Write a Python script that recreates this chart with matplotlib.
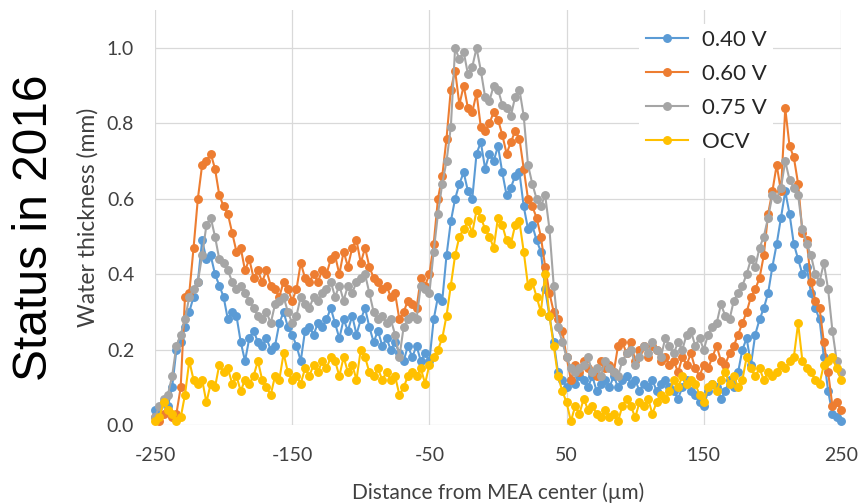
"""
Water thickness profile across the MEA (neutron imaging), status in 2016.
Four operating points: 0.40 V, 0.60 V, 0.75 V and OCV.
"""

import numpy as np
import matplotlib.pyplot as plt

# ===== DATA =====
# positions: -250 .. 250 um, 161 samples (3.125 um step)
X_START_UM = -250.0
X_STEP_UM = 3.125

SERIES_NAMES = ["0.40 V", "0.60 V", "0.75 V", "OCV"]
SERIES_COLORS = ["#5B9BD5", "#ED7D31", "#A5A5A5", "#FFC000"]

# water thickness (mm), 10 samples per row
water_040 = [
    0.04, 0.03, 0.06, 0.05, 0.10, 0.20, 0.22, 0.26, 0.30, 0.34,
    0.38, 0.49, 0.44, 0.45, 0.40, 0.37, 0.34, 0.28, 0.30, 0.29,
    0.22, 0.17, 0.23, 0.25, 0.22, 0.21, 0.23, 0.20, 0.21, 0.27,
    0.30, 0.26, 0.24, 0.21, 0.17, 0.25, 0.26, 0.24, 0.27, 0.26,
    0.28, 0.31, 0.27, 0.23, 0.28, 0.25, 0.29, 0.24, 0.28, 0.31,
    0.26, 0.22, 0.25, 0.21, 0.23, 0.20, 0.22, 0.19, 0.17, 0.21,
    0.18, 0.21, 0.17, 0.19, 0.17, 0.28, 0.34, 0.33, 0.45, 0.54,
    0.60, 0.64, 0.67, 0.62, 0.60, 0.72, 0.75, 0.68, 0.72, 0.70,
    0.74, 0.67, 0.61, 0.63, 0.66, 0.67, 0.58, 0.52, 0.53, 0.49,
    0.46, 0.36, 0.29, 0.22, 0.14, 0.12, 0.10, 0.12, 0.11, 0.13,
    0.12, 0.10, 0.13, 0.09, 0.11, 0.12, 0.10, 0.13, 0.10, 0.12,
    0.13, 0.11, 0.12, 0.09, 0.11, 0.10, 0.12, 0.09, 0.11, 0.12,
    0.10, 0.09, 0.07, 0.10, 0.12, 0.09, 0.08, 0.06, 0.05, 0.09,
    0.11, 0.10, 0.07, 0.09, 0.12, 0.10, 0.14, 0.20, 0.23, 0.16,
    0.24, 0.28, 0.31, 0.35, 0.42, 0.48, 0.55, 0.62, 0.56, 0.48,
    0.44, 0.40, 0.42, 0.35, 0.31, 0.28, 0.18, 0.09, 0.03, 0.02,
    0.01,
]
water_060 = [
    0.02, 0.01, 0.03, 0.04, 0.02, 0.03, 0.10, 0.34, 0.35, 0.47,
    0.60, 0.69, 0.70, 0.72, 0.68, 0.61, 0.58, 0.56, 0.51, 0.46,
    0.47, 0.41, 0.44, 0.39, 0.41, 0.38, 0.41, 0.37, 0.36, 0.34,
    0.38, 0.36, 0.33, 0.36, 0.43, 0.39, 0.38, 0.40, 0.38, 0.41,
    0.40, 0.44, 0.45, 0.40, 0.46, 0.42, 0.47, 0.49, 0.43, 0.47,
    0.42, 0.39, 0.38, 0.36, 0.37, 0.34, 0.35, 0.28, 0.30, 0.33,
    0.32, 0.31, 0.39, 0.37, 0.40, 0.48, 0.60, 0.66, 0.76, 0.89,
    0.94, 0.85, 0.90, 0.84, 0.83, 0.88, 0.79, 0.78, 0.80, 0.83,
    0.81, 0.77, 0.72, 0.75, 0.78, 0.76, 0.68, 0.60, 0.58, 0.55,
    0.50, 0.42, 0.35, 0.30, 0.28, 0.25, 0.18, 0.12, 0.16, 0.14,
    0.17, 0.15, 0.14, 0.13, 0.17, 0.15, 0.16, 0.14, 0.21, 0.22,
    0.19, 0.22, 0.17, 0.20, 0.21, 0.18, 0.21, 0.20, 0.17, 0.18,
    0.16, 0.17, 0.14, 0.18, 0.16, 0.19, 0.15, 0.13, 0.16, 0.15,
    0.18, 0.21, 0.17, 0.16, 0.19, 0.21, 0.24, 0.27, 0.30, 0.34,
    0.36, 0.39, 0.45, 0.56, 0.62, 0.69, 0.62, 0.84, 0.74, 0.71,
    0.64, 0.51, 0.49, 0.38, 0.33, 0.31, 0.22, 0.14, 0.05, 0.06,
    0.04,
]
water_075 = [
    0.02, 0.05, 0.07, 0.08, 0.13, 0.21, 0.24, 0.28, 0.34, 0.36,
    0.38, 0.45, 0.53, 0.55, 0.50, 0.44, 0.43, 0.41, 0.38, 0.36,
    0.37, 0.35, 0.33, 0.31, 0.29, 0.28, 0.30, 0.27, 0.32, 0.33,
    0.34, 0.30, 0.27, 0.29, 0.34, 0.32, 0.31, 0.34, 0.33, 0.35,
    0.36, 0.38, 0.34, 0.37, 0.33, 0.37, 0.35, 0.38, 0.39, 0.40,
    0.35, 0.30, 0.28, 0.29, 0.27, 0.28, 0.24, 0.18, 0.26, 0.28,
    0.29, 0.28, 0.37, 0.36, 0.35, 0.46, 0.56, 0.64, 0.70, 0.79,
    1.00, 0.97, 0.99, 0.93, 0.95, 1.00, 0.94, 0.87, 0.86, 0.90,
    0.89, 0.85, 0.84, 0.82, 0.87, 0.89, 0.82, 0.69, 0.64, 0.60,
    0.58, 0.61, 0.52, 0.37, 0.26, 0.22, 0.18, 0.15, 0.14, 0.15,
    0.16, 0.18, 0.14, 0.15, 0.13, 0.17, 0.15, 0.14, 0.13, 0.17,
    0.19, 0.20, 0.16, 0.18, 0.21, 0.19, 0.22, 0.20, 0.18, 0.23,
    0.21, 0.19, 0.22, 0.20, 0.24, 0.25, 0.21, 0.23, 0.20, 0.24,
    0.26, 0.27, 0.32, 0.29, 0.28, 0.33, 0.35, 0.37, 0.40, 0.44,
    0.42, 0.47, 0.50, 0.55, 0.61, 0.60, 0.63, 0.70, 0.65, 0.63,
    0.61, 0.52, 0.48, 0.45, 0.40, 0.38, 0.43, 0.36, 0.25, 0.17,
    0.14,
]
water_ocv = [
    0.01, 0.02, 0.06, 0.04, 0.03, 0.01, 0.02, 0.08, 0.17, 0.12,
    0.11, 0.12, 0.06, 0.11, 0.10, 0.16, 0.14, 0.15, 0.11, 0.13,
    0.09, 0.12, 0.11, 0.13, 0.17, 0.12, 0.10, 0.08, 0.13, 0.12,
    0.19, 0.14, 0.12, 0.13, 0.11, 0.15, 0.13, 0.16, 0.14, 0.17,
    0.15, 0.18, 0.17, 0.13, 0.18, 0.14, 0.16, 0.12, 0.20, 0.18,
    0.14, 0.13, 0.15, 0.12, 0.14, 0.12, 0.13, 0.08, 0.10, 0.13,
    0.14, 0.13, 0.15, 0.11, 0.16, 0.18, 0.20, 0.23, 0.29, 0.37,
    0.45, 0.50, 0.52, 0.54, 0.51, 0.57, 0.55, 0.52, 0.50, 0.47,
    0.55, 0.53, 0.49, 0.48, 0.53, 0.54, 0.46, 0.37, 0.38, 0.34,
    0.30, 0.40, 0.29, 0.21, 0.13, 0.09, 0.06, 0.01, 0.05, 0.03,
    0.07, 0.04, 0.05, 0.03, 0.02, 0.04, 0.02, 0.03, 0.01, 0.05,
    0.07, 0.05, 0.02, 0.06, 0.05, 0.07, 0.03, 0.06, 0.08, 0.07,
    0.09, 0.12, 0.10, 0.13, 0.11, 0.12, 0.11, 0.08, 0.06, 0.10,
    0.11, 0.09, 0.12, 0.14, 0.11, 0.13, 0.10, 0.12, 0.18, 0.15,
    0.13, 0.15, 0.12, 0.14, 0.13, 0.14, 0.16, 0.15, 0.17, 0.18,
    0.27, 0.17, 0.15, 0.14, 0.12, 0.11, 0.16, 0.17, 0.18, 0.15,
    0.12,
]

X_TICKS = [-250, -150, -50, 50, 150, 250]
Y_TICKS = [0.0, 0.2, 0.4, 0.6, 0.8, 1.0]

FONT = "Lato"
GRID_COLOR = "#d9d9d9"


def main():
    series = [water_040, water_060, water_075, water_ocv]
    x = X_START_UM + X_STEP_UM * np.arange(len(water_040))

    fig = plt.figure(figsize=(8.6, 5.04), dpi=100)
    ax = fig.add_axes([0.1802, 0.1567, 0.7977, 0.8228])

    for name, color, y in zip(SERIES_NAMES, SERIES_COLORS, series):
        ax.plot(x, y, color=color, lw=1.5, marker="o", ms=5.4,
                mec=color, mfc=color, label=name, clip_on=False, zorder=3)

    ax.set_xlim(-250, 250)
    ax.set_ylim(0, 1.1)
    ax.set_xticks(X_TICKS)
    ax.set_yticks(Y_TICKS)
    ax.set_xticklabels([str(t) for t in X_TICKS])
    ax.set_yticklabels([f"{t:.1f}" for t in Y_TICKS])
    ax.tick_params(length=0, labelsize=14, colors="#404040")
    ax.tick_params(axis="x", pad=16)
    ax.tick_params(axis="y", pad=15)
    for lab in ax.get_xticklabels() + ax.get_yticklabels():
        lab.set_fontfamily(FONT)
    ax.grid(True, color=GRID_COLOR, lw=0.9, zorder=0)
    ax.set_axisbelow(True)
    for s in ax.spines.values():
        s.set_visible(False)

    ax.set_xlabel("Distance from MEA center (\u00b5m)", fontsize=15,
                  family=FONT, color="#404040", labelpad=13)
    ax.set_ylabel("Water thickness (mm)", fontsize=16.5, family=FONT,
                  color="#404040", labelpad=6)

    leg = ax.legend(loc="upper left", bbox_to_anchor=(0.69, 0.995), frameon=True,
                    prop={"family": FONT, "size": 16}, handlelength=1.9,
                    handletextpad=0.6, labelspacing=0.62, borderpad=0.3)
    leg.get_frame().set_facecolor("white")
    leg.get_frame().set_edgecolor("none")
    leg.get_frame().set_alpha(1.0)
    for t in leg.get_texts():
        t.set_color("#262626")

    fig.text(0.04, 0.548, "Status in 2016", rotation=90, ha="center", va="center",
             fontsize=34.5, family="Liberation Sans", color="black")

    fig.savefig("out.png", dpi=100)


if __name__ == "__main__":
    main()
